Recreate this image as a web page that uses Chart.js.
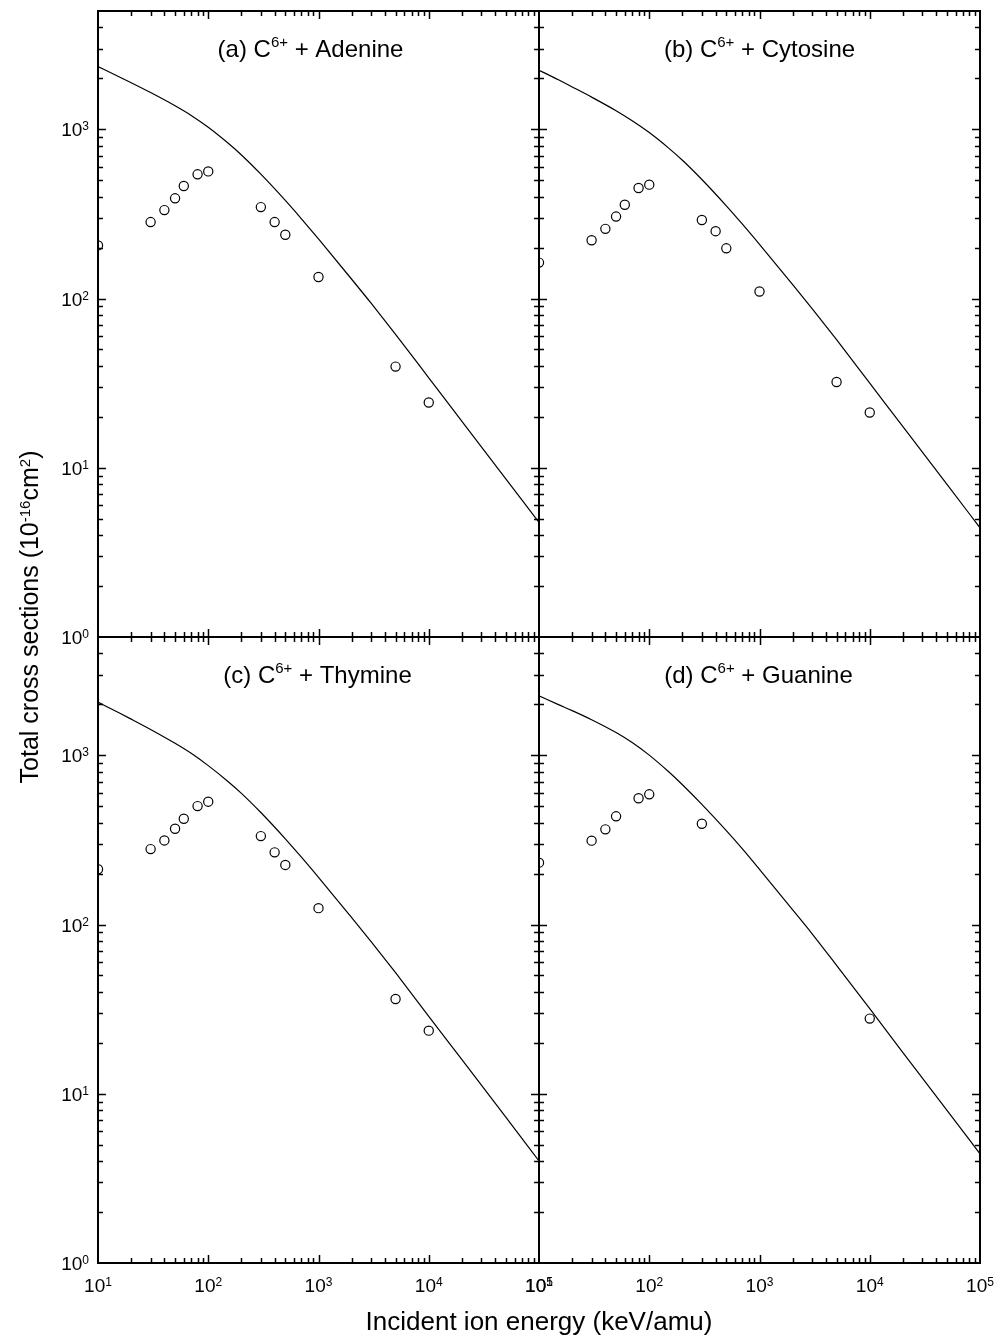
<!DOCTYPE html>
<html>
<head>
<meta charset="utf-8">
<script src="https://cdn.jsdelivr.net/npm/chart.js@4.4.0/dist/chart.umd.min.js"></script>
<style>
  body { margin: 0; background: #fff; }
  #wrap { position: relative; width: 999px; height: 1338px; font-family: "Liberation Sans", Arial, Helvetica, sans-serif; color: #000; }
  #wrap canvas { position: absolute; left: 0; top: 0; }
  .sup { font-size: 0.6em; position: relative; top: -0.55em; }
  #xtitle { position: absolute; left: 239px; width: 600px; top: 1308px; font-size: 26px; line-height: 26px; text-align: center; white-space: nowrap; }
  #ytitle { position: absolute; left: -271px; width: 600px; top: 602px; height: 30px; font-size: 25px; line-height: 30px; text-align: center; white-space: nowrap; transform: rotate(-90deg); }
</style>
</head>
<body>
<div id="wrap">
  <canvas id="chartA" width="999" height="1338"></canvas>
  <canvas id="chartB" width="999" height="1338"></canvas>
  <canvas id="chartC" width="999" height="1338"></canvas>
  <canvas id="chartD" width="999" height="1338"></canvas>
  <div id="xtitle">Incident ion energy (keV/amu)</div>
  <div id="ytitle">Total cross sections (10<span class="sup">-16</span>cm<span class="sup">2</span>)</div>
</div>
<script>
// theory curves (solid lines), energy in keV/amu
const energyCurve = [10, 15, 20, 30, 50, 70, 100, 150, 200, 300, 500, 700, 1000, 2000, 3000, 5000, 10000, 20000, 50000, 100000];
const adenineCurve = [2350, 2065, 1884, 1648, 1377, 1208, 1028, 832, 705, 543, 380, 296, 225, 130, 93.8, 61.4, 34.0, 18.8, 8.61, 4.75];
const cytosineCurve = [2233, 1962, 1780, 1549, 1287, 1123, 956, 774, 656, 505, 353, 275, 209, 121, 87.2, 57.1, 31.6, 17.5, 8.0, 4.42];
const thymineCurve = [2061, 1801, 1635, 1421, 1177, 1027, 869, 703, 596, 459, 321, 250, 190, 110, 79.3, 51.9, 28.7, 15.9, 7.28, 4.01];
const guanineCurve = [2244, 1993, 1837, 1623, 1363, 1190, 1002, 799, 670, 513, 359, 280, 212, 122, 88.2, 57.4, 31.8, 17.5, 8.0, 4.42];

// measured values (open circles)
const energyMeas = [10, 30, 40, 50, 60, 80, 100, 300, 400, 500, 1000, 5000, 10000];
const adenineMeas = [206, 283, 333, 391, 462, 542, 564, 347, 283, 238, 134, 39.6, 24.3];
const cytosineMeas = [163, 221, 258, 305, 358, 450, 471, 291, 250, 198, 110, 32.1, 21.2];
const thymineMeas = [212, 279, 314, 368, 422, 501, 532, 333, 267, 225, 125, 36.3, 23.6];
const energyGuanine = [10, 30, 40, 50, 80, 100, 300, 10000];
const guanineMeas = [232, 313, 365, 436, 557, 588, 394, 27.8];

// axis ticks (powers of ten)
const xTickExps = [1, 2, 3, 4, 5];
const yTickExps = [0, 1, 2, 3];
const xRange = [10, 100000];
const yRange = [1, 5000];

const panelTags = ['(a)', '(b)', '(c)', '(d)'];
const targets = ['Adenine', 'Cytosine', 'Thymine', 'Guanine'];
const ion = 'C';
const ionCharge = '6+';

const FONT = '"Liberation Sans", Arial, Helvetica, sans-serif';

function toPoints(xs, ys) {
    return xs.map((v, i) => ({ x: v, y: ys[i] }));
}

// frame, inward ticks on all sides, superscript tick labels and panel title
const frameTicks = {
    id: 'frameTicks',
    afterDatasetsDraw(chart, args, opts) {
        const { ctx, chartArea: a, scales: { x, y } } = chart;
        ctx.save();
        ctx.strokeStyle = '#000';
        ctx.fillStyle = '#000';
        ctx.lineWidth = 1.5;
        ctx.beginPath();
        for (let d = 1; d < 5; d++) {
            for (let m = 1; m < 10; m++) {
                const v = m * Math.pow(10, d);
                if (v <= xRange[0] || v >= xRange[1]) continue;
                const len = m === 1 ? 8 : 5;
                const px = Math.round(x.getPixelForValue(v)) + 0.5;
                ctx.moveTo(px, a.bottom); ctx.lineTo(px, a.bottom - len);
                ctx.moveTo(px, a.top); ctx.lineTo(px, a.top + len);
            }
        }
        for (let d = 0; d < 4; d++) {
            for (let m = 1; m < 10; m++) {
                const v = m * Math.pow(10, d);
                if (v <= yRange[0] || v >= yRange[1]) continue;
                const len = m === 1 ? 8 : 5;
                const py = Math.round(y.getPixelForValue(v)) + 0.5;
                ctx.moveTo(a.left, py); ctx.lineTo(a.left + len, py);
                ctx.moveTo(a.right, py); ctx.lineTo(a.right - len, py);
            }
        }
        ctx.stroke();

        ctx.lineWidth = 2;
        ctx.strokeRect(a.left, a.top, a.right - a.left, a.bottom - a.top);

        const baseFont = '19px ' + FONT;
        const expFont = '12px ' + FONT;
        ctx.textBaseline = 'alphabetic';
        ctx.textAlign = 'left';
        if (opts.xLabels) {
            xTickExps.forEach(e => {
                const px = x.getPixelForValue(Math.pow(10, e));
                ctx.font = baseFont;
                const w1 = ctx.measureText('10').width;
                ctx.font = expFont;
                const w2 = ctx.measureText(String(e)).width;
                const start = px - (w1 + w2) / 2;
                const base = a.bottom + 29;
                ctx.font = baseFont;
                ctx.fillText('10', start, base);
                ctx.font = expFont;
                ctx.fillText(String(e), start + w1, base - 6);
            });
        }
        if (opts.yLabels) {
            yTickExps.forEach(e => {
                const py = y.getPixelForValue(Math.pow(10, e));
                ctx.font = baseFont;
                const w1 = ctx.measureText('10').width;
                ctx.font = expFont;
                const w2 = ctx.measureText(String(e)).width;
                const end = a.left - 9;
                const base = py + 7;
                ctx.font = baseFont;
                ctx.fillText('10', end - w1 - w2, base);
                ctx.font = expFont;
                ctx.fillText(String(e), end - w2, base - 6);
            });
        }

        // panel title
        const t1 = opts.tag + ' ' + ion;
        const t2 = ionCharge;
        const t3 = ' + ' + opts.target;
        ctx.font = '24px ' + FONT;
        const w1 = ctx.measureText(t1).width;
        const w3 = ctx.measureText(t3).width;
        ctx.font = '15px ' + FONT;
        const w2 = ctx.measureText(t2).width;
        let tx = (a.left + a.right) / 2 + (opts.shift || 0) - (w1 + w2 + w3) / 2;
        const ty = a.top + 46;
        ctx.font = '24px ' + FONT;
        ctx.fillText(t1, tx, ty);
        ctx.font = '15px ' + FONT;
        ctx.fillText(t2, tx + w1, ty - 10);
        ctx.font = '24px ' + FONT;
        ctx.fillText(t3, tx + w1 + w2, ty);
        ctx.restore();
    }
};

function makePanel(id, box, idx, curve, measE, meas, xLabels, yLabels, shift) {
    const ctx = document.getElementById(id).getContext('2d');
    return new Chart(ctx, {
        type: 'line',
        data: {
            datasets: [{
                data: toPoints(energyCurve, curve),
                borderColor: '#000',
                borderWidth: 1.2,
                pointRadius: 0,
                cubicInterpolationMode: 'monotone',
                clip: 0
            }, {
                data: toPoints(measE, meas),
                showLine: false,
                pointStyle: 'circle',
                pointRadius: 4.6,
                pointBorderWidth: 1.2,
                pointBorderColor: '#000',
                pointBackgroundColor: 'rgba(255,255,255,0)',
                clip: 0
            }]
        },
        options: {
            responsive: false,
            animation: false,
            events: [],
            devicePixelRatio: 1,
            layout: {
                padding: { left: box[0], top: box[1], right: 999 - box[2], bottom: 1338 - box[3] }
            },
            scales: {
                x: { type: 'logarithmic', min: xRange[0], max: xRange[1], display: false },
                y: { type: 'logarithmic', min: yRange[0], max: yRange[1], display: false }
            },
            plugins: {
                legend: { display: false },
                tooltip: { enabled: false },
                frameTicks: { xLabels: xLabels, yLabels: yLabels, tag: panelTags[idx], target: targets[idx], shift: shift }
            }
        },
        plugins: [frameTicks]
    });
}

makePanel('chartA', [98, 11, 539, 637], 0, adenineCurve, energyMeas, adenineMeas, false, true, -8);
makePanel('chartB', [539, 11, 980, 637], 1, cytosineCurve, energyMeas, cytosineMeas, false, false, 0);
makePanel('chartC', [98, 637, 539, 1263], 2, thymineCurve, energyMeas, thymineMeas, true, true, -1);
makePanel('chartD', [539, 637, 980, 1263], 3, guanineCurve, energyGuanine, guanineMeas, true, false, -1);
</script>
</body>
</html>
